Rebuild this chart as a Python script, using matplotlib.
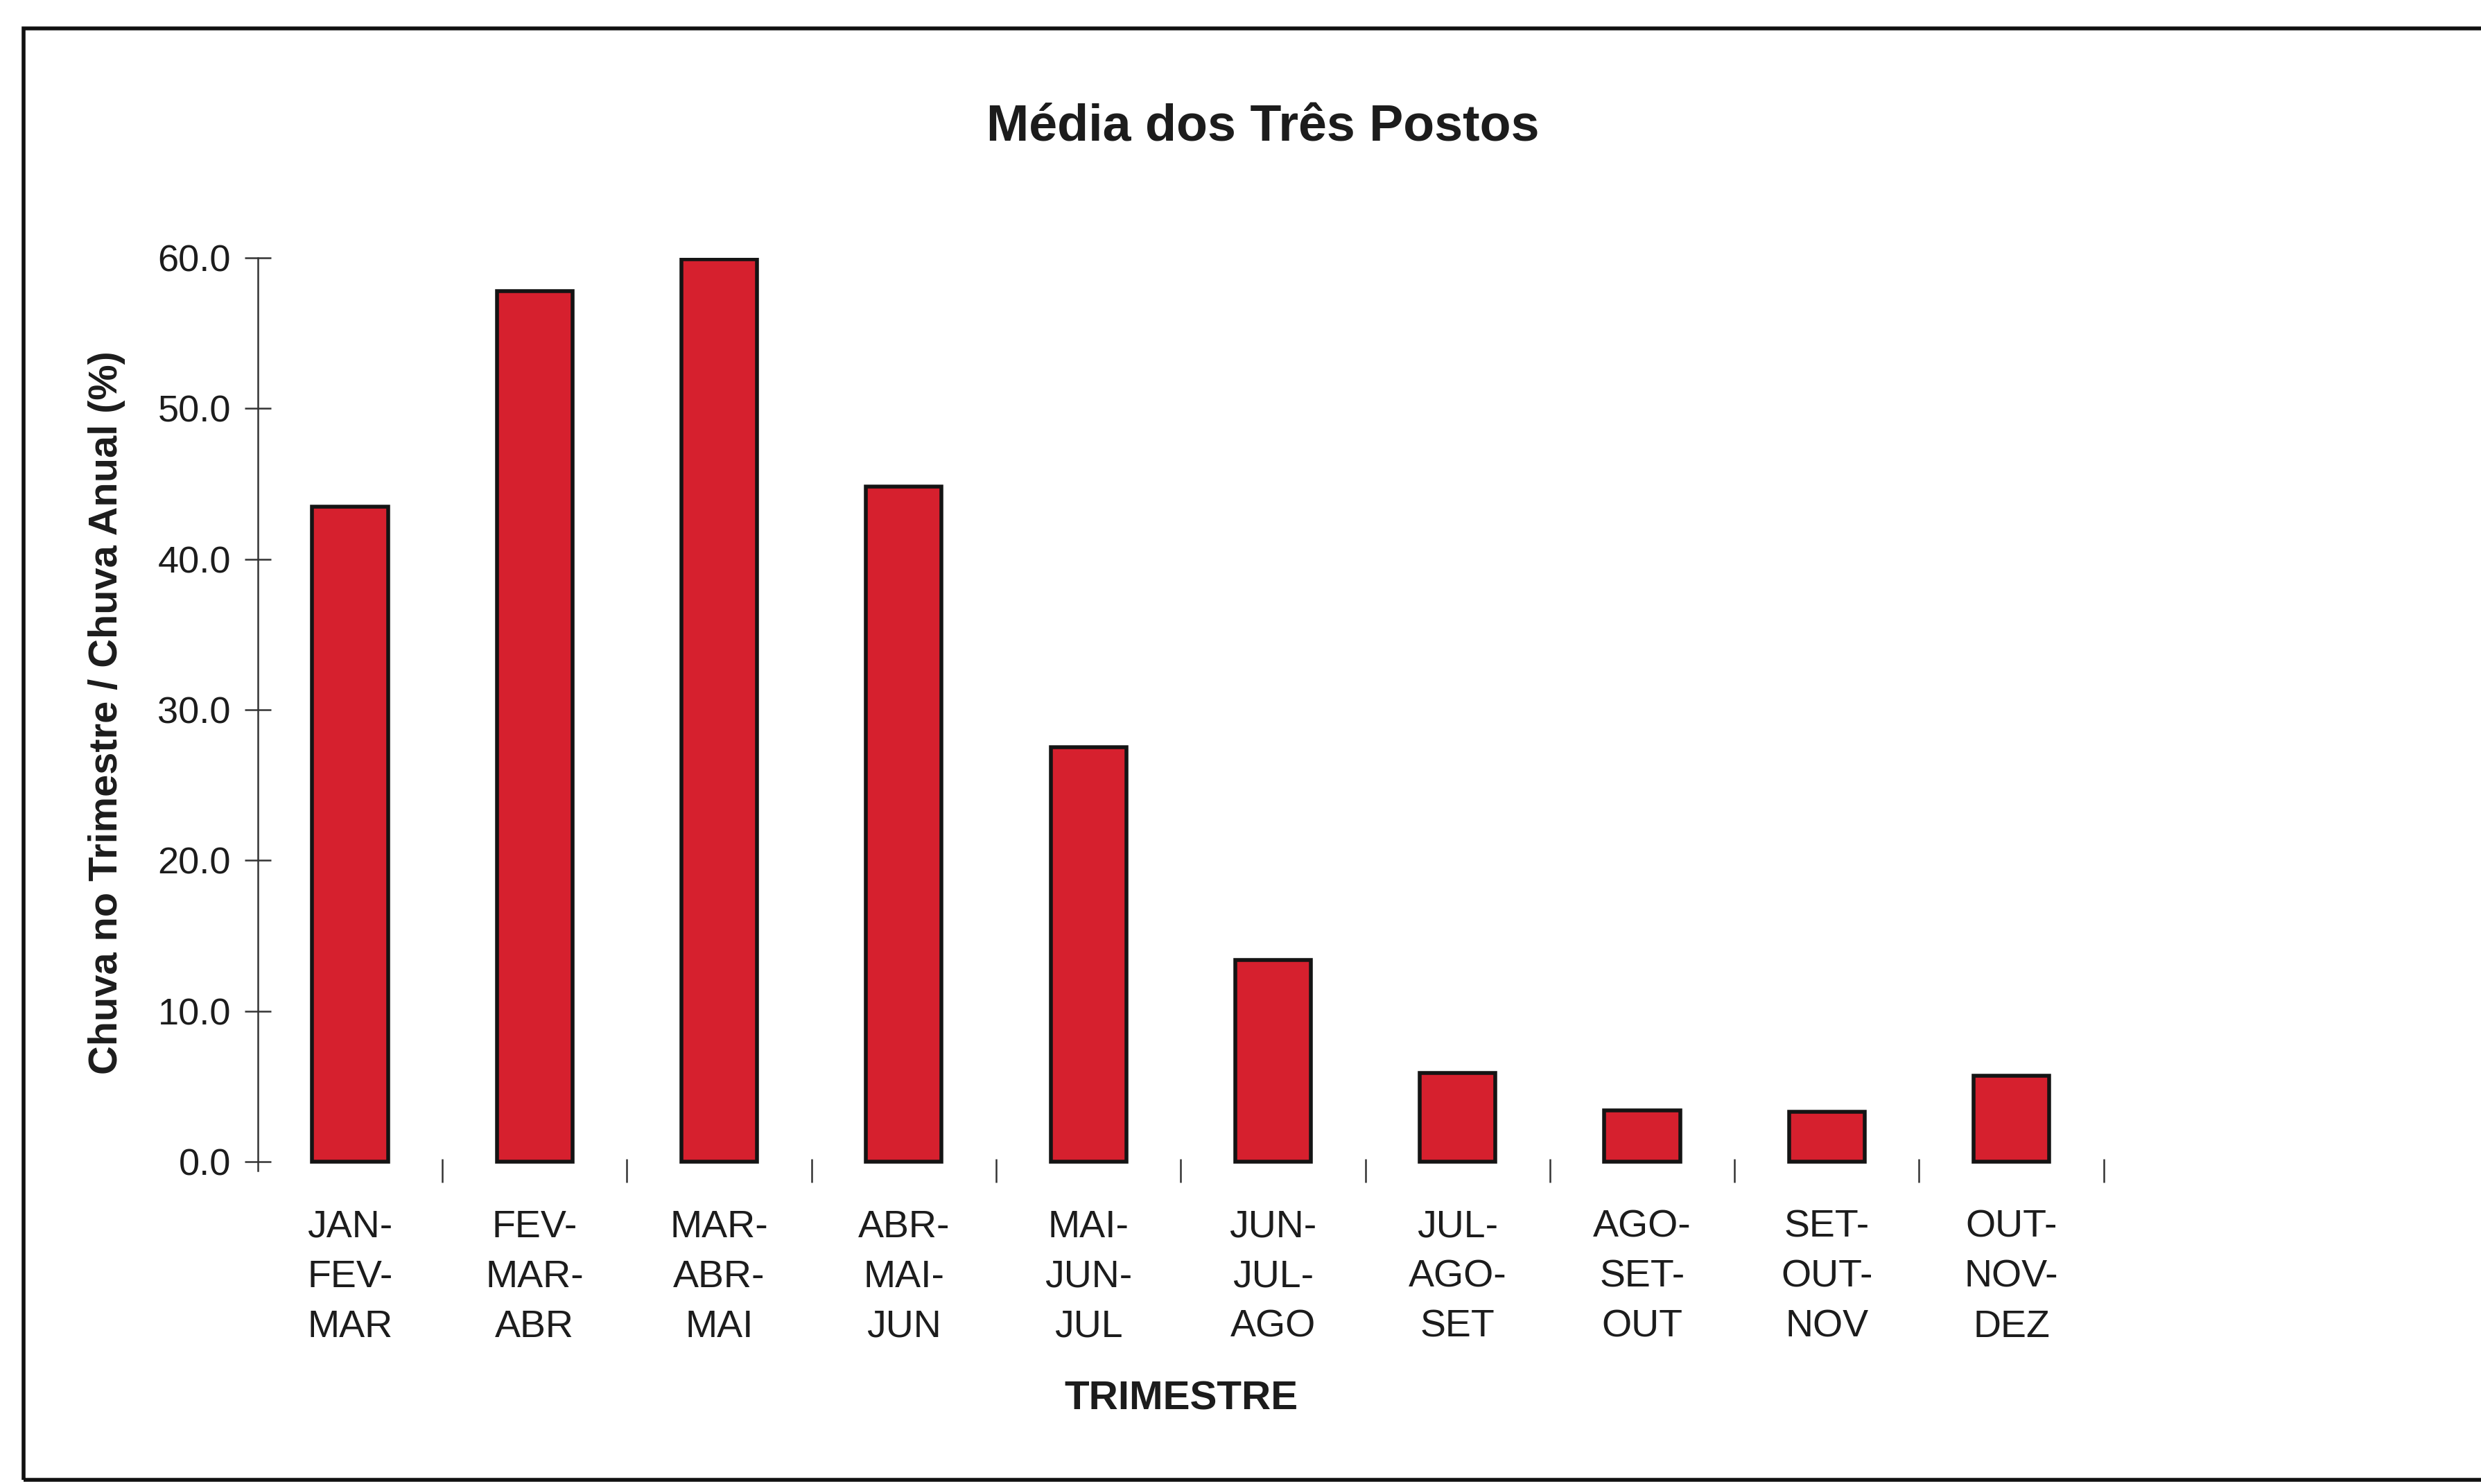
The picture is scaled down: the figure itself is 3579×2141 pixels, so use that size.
import numpy as np
import matplotlib
matplotlib.use("Agg")
import matplotlib.pyplot as plt
from matplotlib.patches import Rectangle

plt.rcParams['font.family'] = ['Liberation Sans', 'DejaVu Sans']

trimestres = ["JAN-\nFEV-\nMAR", "FEV-\nMAR-\nABR", "MAR-\nABR-\nMAI", "ABR-\nMAI-\nJUN",
              "MAI-\nJUN-\nJUL", "JUN-\nJUL-\nAGO", "JUL-\nAGO-\nSET", "AGO-\nSET-\nOUT",
              "SET-\nOUT-\nNOV", "OUT-\nNOV-\nDEZ"]
chuva_pct = [43.5, 57.8, 59.9, 44.8, 27.5, 13.4, 5.9, 3.4, 3.3, 5.7]
yticks = [0, 10, 20, 30, 40, 50, 60]

txt = '#1c1c1c'

fig = plt.figure(figsize=(17.895, 10.705), dpi=200)
ax = fig.add_axes([0.1039, 0.2111, 0.744, 0.6151])

x = np.arange(len(trimestres))
ax.bar(x, chuva_pct, width=0.41, color='#D6202E', edgecolor='#141414', linewidth=2.0, zorder=3)

ax.set_xlim(-0.5, len(trimestres) - 0.5)
ax.set_ylim(-0.6, 60)
for s in ['top', 'right', 'bottom']:
    ax.spines[s].set_visible(False)
ax.spines['left'].set_linewidth(0.9)
ax.spines['left'].set_color('#333333')

ax.set_yticks(yticks)
ax.set_yticklabels([f"{v:.1f}" for v in yticks], fontsize=19.5, color=txt)
ax.tick_params(axis='y', direction='inout', length=14, width=0.9, color='#333333', pad=7)

ax.set_xticks(x)
ax.set_xticklabels(trimestres, fontsize=20, color=txt, linespacing=1.5)
ax.tick_params(axis='x', which='major', length=0, pad=20)
ax.set_xticks(np.arange(0.5, len(trimestres)), minor=True)
ax.tick_params(axis='x', which='minor', direction='inout', length=12, width=0.9, color='#333333')

fig.text(0.043, 0.52, "Chuva no Trimestre / Chuva Anual (%)", rotation=90,
         ha='center', va='center', fontsize=20.8, fontweight='bold', color=txt)
fig.text(0.476, 0.057, "TRIMESTRE", ha='center', va='center',
         fontsize=21, fontweight='bold', color=txt)
fig.text(0.509, 0.914, "Média dos Três Postos", ha='center', va='center',
         fontsize=26.5, fontweight='bold', color=txt)

# moldura externa
fig.patches.append(Rectangle((0.0095, 0.003), 1.2, 0.978, transform=fig.transFigure,
                             fill=False, edgecolor='#111111', linewidth=2.0))

fig.savefig("out.png", dpi=200, facecolor='white')
